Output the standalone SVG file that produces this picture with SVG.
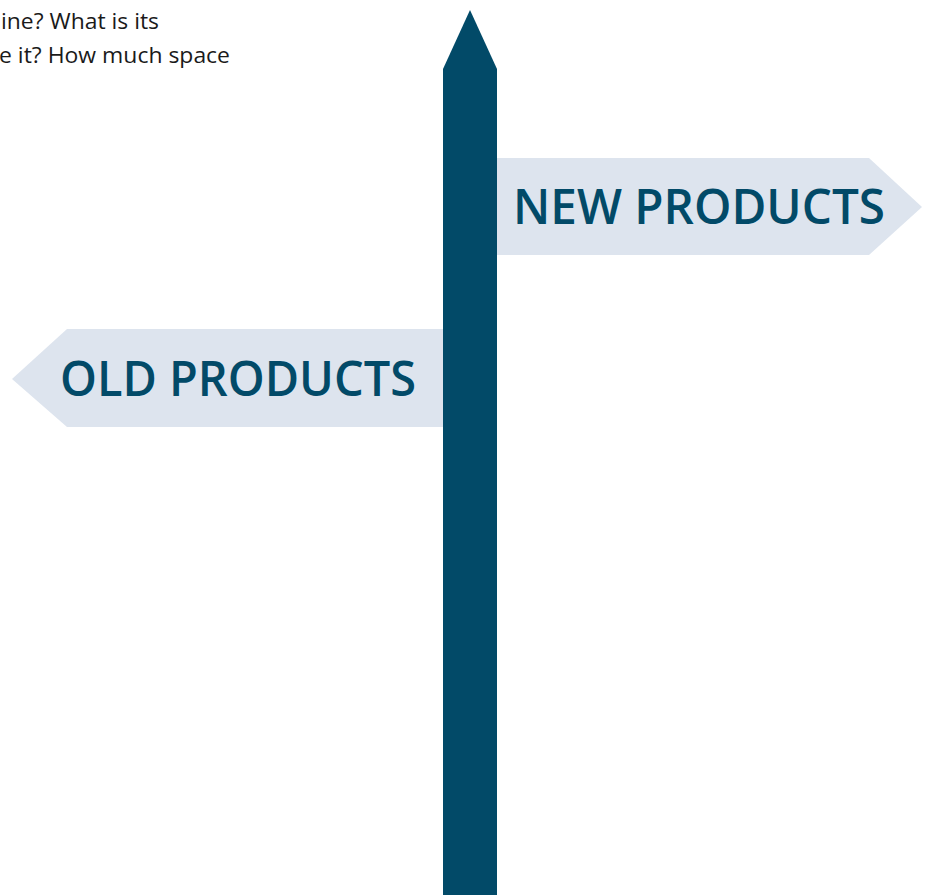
<svg xmlns="http://www.w3.org/2000/svg" width="925" height="895" viewBox="0 0 925 895">
<style>
.sign{fill:#dde4ee}
.pole{fill:#024a68}
.lbl{font-family:"Open Sans","Noto Sans",sans-serif;font-weight:600;font-size:48px;fill:#024a68}
.body{font-family:"Open Sans","Noto Sans",sans-serif;font-size:21px;fill:#1a1a1a}
</style>
<rect width="925" height="895" fill="#ffffff"/>
<g id="intro-text">
<text class="body" x="1" y="29" textLength="158" lengthAdjust="spacingAndGlyphs">ine? What is its</text>
<text class="body" x="-1" y="63" textLength="231" lengthAdjust="spacingAndGlyphs">e it? How much space</text>
</g>
<g id="new-products">
<polygon class="sign" points="497,158 869,158 922,207 869,255 497,255"/>
<text class="lbl" x="513" y="224" textLength="372" lengthAdjust="spacingAndGlyphs">NEW PRODUCTS</text>
</g>
<g id="old-products">
<polygon class="sign" points="443,329 67,329 12,379 67,427 443,427"/>
<text class="lbl" x="60" y="396" textLength="356" lengthAdjust="spacingAndGlyphs">OLD PRODUCTS</text>
</g>
<g id="pole">
<polygon class="pole" points="470,10 497,69 497,895 443,895 443,69"/>
</g>
</svg>
